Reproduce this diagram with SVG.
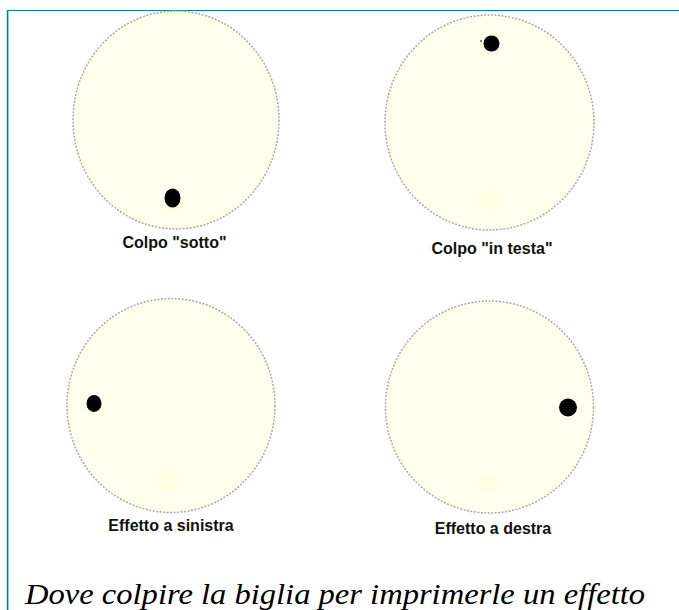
<svg xmlns="http://www.w3.org/2000/svg" width="679" height="610" viewBox="0 0 679 610">
<style>
.ball{fill:#fefeec;stroke:#a9a9a9;stroke-width:1.5;stroke-dasharray:2 1.5}
.glow{fill:#fffbdc;opacity:0.6}
.dot{fill:#000}
.lbl{font-family:"Liberation Sans",Arial,sans-serif;font-weight:bold;font-size:16px;fill:#111;text-anchor:middle}
.cap{font-family:"Liberation Serif","Times New Roman",serif;font-style:italic;font-size:29px;fill:#000}
</style>
<rect width="679" height="610" fill="#fff"/>
<g id="frame" fill="none" stroke="#00857b">
<line x1="7" y1="10.5" x2="679" y2="10.5" stroke-width="1.2"/>
<line x1="7.6" y1="10" x2="7.6" y2="610" stroke-width="1.6"/>
</g>
<g id="sotto">
<ellipse class="ball" cx="176" cy="120" rx="103" ry="109"/>
<ellipse class="glow" cx="172" cy="205" rx="10" ry="8"/>
<ellipse class="dot" cx="172.5" cy="198" rx="8" ry="9.5"/>
<text class="lbl" x="174.5" y="248">Colpo "sotto"</text>
</g>
<g id="in-testa">
<ellipse class="ball" cx="489.5" cy="122.5" rx="104.5" ry="107.5"/>
<ellipse class="glow" cx="489" cy="200" rx="12" ry="10"/>
<circle class="dot" cx="491.5" cy="43.5" r="8"/>
<circle class="dot" cx="481" cy="41" r="0.8"/>
<text class="lbl" x="492" y="254">Colpo "in testa"</text>
</g>
<g id="sinistra">
<ellipse class="ball" cx="171" cy="405.5" rx="104" ry="107"/>
<ellipse class="glow" cx="168" cy="482" rx="12" ry="10"/>
<ellipse class="dot" cx="94" cy="403.5" rx="7.5" ry="8.5"/>
<text class="lbl" x="171" y="531">Effetto a sinistra</text>
</g>
<g id="destra">
<ellipse class="ball" cx="489.5" cy="407" rx="104" ry="106"/>
<ellipse class="glow" cx="488" cy="484" rx="12" ry="10"/>
<circle class="dot" cx="568" cy="407.5" r="9"/>
<text class="lbl" x="493" y="534">Effetto a destra</text>
</g>
<g id="caption">
<text class="cap" x="25" y="604" textLength="620" lengthAdjust="spacingAndGlyphs">Dove colpire la biglia per imprimerle un effetto</text>
</g>
</svg>
